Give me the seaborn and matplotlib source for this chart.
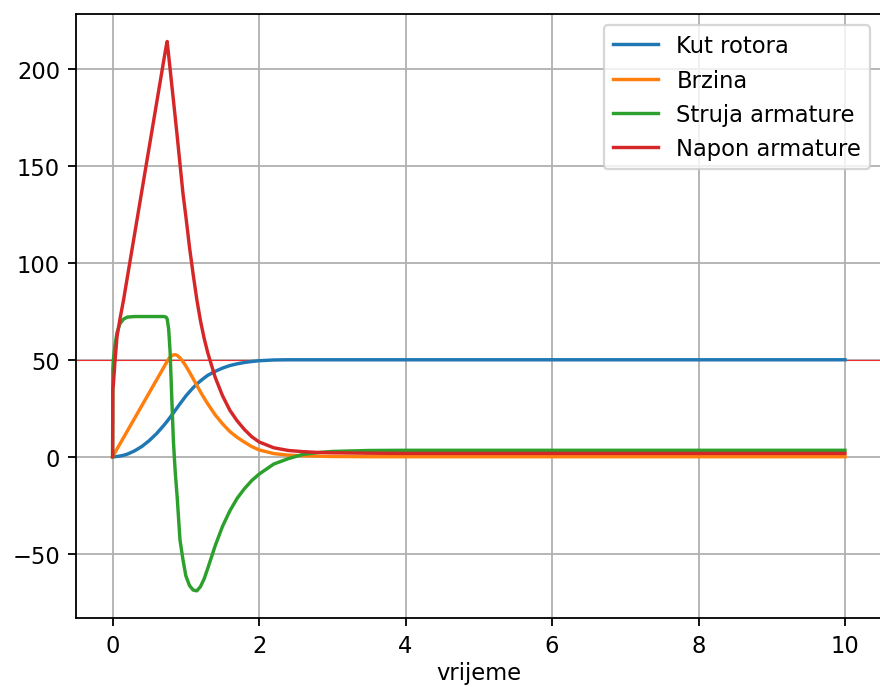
import pandas as pd
import matplotlib
matplotlib.use("Agg")
import matplotlib.pyplot as plt
import seaborn as sns

# vrijeme simulacije (s)
vrijeme = [0, 0.003, 0.01, 0.03, 0.06, 0.1, 0.15, 0.2, 0.3, 0.4, 0.5, 0.6, 0.7,
           0.73, 0.745, 0.765, 0.785, 0.81, 0.83, 0.855, 0.88, 0.92, 0.96, 1.0,
           1.05, 1.1, 1.15, 1.2, 1.25, 1.3, 1.4, 1.5, 1.6, 1.7, 1.8, 1.9, 2.0,
           2.2, 2.4, 2.6, 2.8, 3.0, 3.5, 4.0, 5.0, 6.0, 8.0, 10.0]

kut_rotora = [0, 0, 0, 0.03, 0.12, 0.33, 0.74, 1.3, 3.0, 5.3, 8.3, 11.9, 16.2,
              17.6, 18.3, 19.3, 20.3, 21.6, 22.6, 23.9, 25.2, 27.3, 29.3, 31.3,
              33.5, 35.6, 37.5, 39.1, 40.6, 42.0, 44.0, 45.7, 47.0, 47.9, 48.6,
              49.1, 49.5, 49.9, 50.0, 50.0, 50.0, 50.0, 50.0, 50.0, 50.0, 50.0,
              50.0, 50.0]

brzina = [0, 0.2, 0.66, 2.0, 4.0, 6.6, 9.9, 13.2, 19.8, 26.4, 33.0, 39.6, 46.2,
          48.2, 49.2, 50.4, 51.4, 52.1, 52.5, 52.6, 52.3, 51.0, 49.0, 46.8,
          43.6, 40.2, 36.8, 33.4, 30.2, 27.2, 21.6, 17.0, 13.0, 10.0, 7.5,
          5.2, 3.5, 1.6, 0.8, 0.5, 0.25, 0.1, 0.0, 0.0, 0.0, 0.0, 0.0, 0.0]

struja_armature = [0, 45, 50, 57, 64, 68.6, 71, 72, 72.3, 72.3, 72.3, 72.3, 72.3,
                   72, 71, 66, 54, 28, 8, -8, -20, -43, -53, -61.5,
                   -66.5, -68.8, -69.2, -67, -63, -57.5, -46, -36, -28, -21.5, -16.5,
                   -12.3, -9, -3.8, -1.0, 1.2, 2.1, 2.7, 3.2, 3.3, 3.3, 3.3, 3.3, 3.3]

napon_armature = [0, 35, 37, 48, 62, 71, 81, 92.3, 114.8, 137.3, 159.8, 182.3, 204.8,
                  211.5, 214.2, 207, 200, 191, 184, 175, 166, 151, 136, 124,
                  108, 94, 81, 70, 61, 53.5, 41, 31.5, 24, 18.5, 14,
                  10.3, 7.6, 4.6, 3.2, 2.6, 2.2, 2.0, 1.8, 1.7, 1.7, 1.7, 1.7, 1.7]

serije = {
    'Kut rotora': kut_rotora,
    'Brzina': brzina,
    'Struja armature': struja_armature,
    'Napon armature': napon_armature,
}

# dpi 163 -> zadane matplotlib velicine skalirane kao na slici
fig = plt.figure(figsize=(880 / 163, 688 / 163), dpi=163)
ax = fig.add_axes([76 / 880, 68.7 / 688, 805.6 / 880, 604.3 / 688])

ax.axhline(50, color='red', linewidth=0.5, alpha=0.75)

boje = sns.color_palette('tab10', 4)
for (naziv, vrijednosti), boja in zip(serije.items(), boje):
    df = pd.DataFrame({'t': vrijeme, 'y': vrijednosti})
    sns.lineplot(data=df, x='t', y='y', ax=ax, color=boja, label=naziv,
                 linewidth=1.5, sort=False, estimator=None)

ax.grid(True)
ax.set_xlabel('vrijeme', labelpad=1.5)
ax.set_ylabel('')
ax.legend(loc='upper right')

fig.savefig('out.png', dpi=163)
